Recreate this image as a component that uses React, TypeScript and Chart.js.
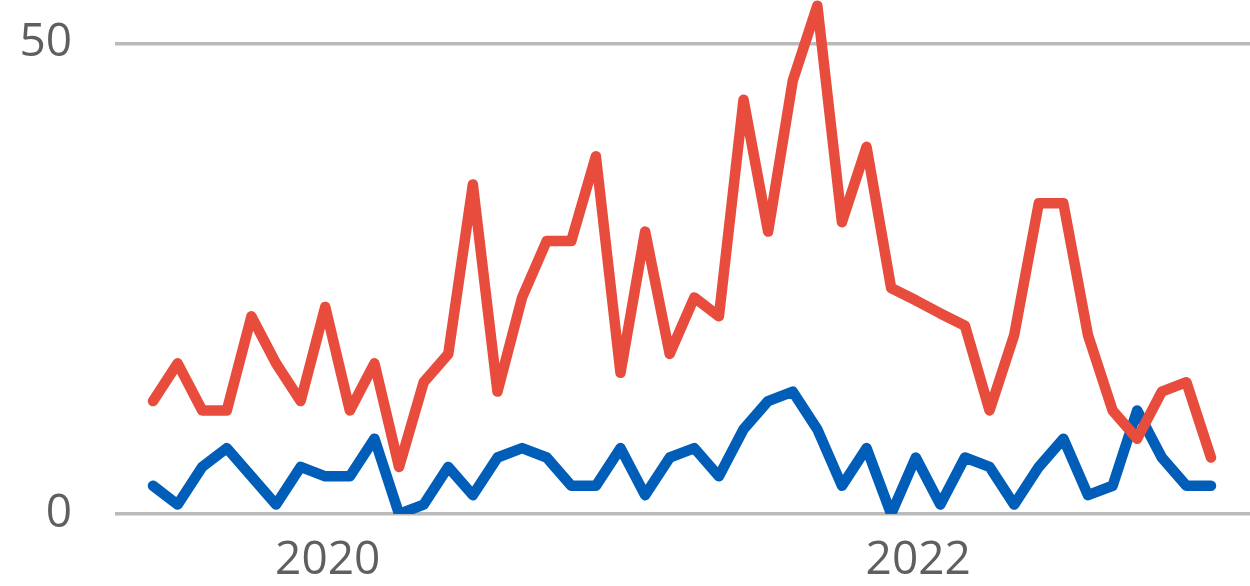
import React, { useEffect, useRef } from "react";
import { Chart, registerables } from "chart.js";

Chart.register(...registerables);

// Monthly data, June 2019 .. January 2023 (index 0 = Jun 2019)
const startYear = 2019;
const startMonth = 6; // June
const redSeries = [
  12, 16, 11, 11, 21, 16, 12, 22, 11, 16, 5, 14, 17, 35, 13, 23, 29, 29, 38, 15,
  30, 17, 23, 21, 44, 30, 46, 54, 31, 39, 24, 22.7, 21.3, 20, 11, 19, 33, 33, 19,
  11, 8, 13, 14, 6,
];
const blueSeries = [
  3, 1, 5, 7, 4, 1, 5, 4, 4, 8, 0, 1, 5, 2, 6, 7, 6, 3, 3, 7, 2, 6, 7, 4, 9, 12,
  13, 9, 3, 7, 0, 6, 1, 6, 5, 1, 5, 8, 2, 3, 11, 6, 3, 3,
];
const yTickValues = [0, 50];
const xTickYears = [2020, 2022];

const RED = "#e84c3d";
const BLUE = "#005eb8";
const GRID = "#bababa";
const TEXT = "#5f5f5f";
const FONT = "'Open Sans', 'Noto Sans', sans-serif";

function yearToIndex(year: number) {
  return (year - startYear) * 12 + (1 - startMonth);
}

function zeroPadding(scale: any) {
  scale.paddingTop = 0;
  scale.paddingBottom = 0;
  scale.paddingLeft = 0;
  scale.paddingRight = 0;
}

export default function App() {
  const canvasRef = useRef<HTMLCanvasElement | null>(null);

  useEffect(() => {
    document.body.style.margin = "0";
    const canvas = canvasRef.current;
    if (!canvas) return;
    const toPoints = (arr: number[]) => arr.map((v, i) => ({ x: i, y: v }));
    const chart = new Chart(canvas, {
      type: "line",
      data: {
        datasets: [
          {
            label: "red",
            data: toPoints(redSeries),
            borderColor: RED,
            borderWidth: 10.5,
            borderCapStyle: "round",
            borderJoinStyle: "round",
            pointRadius: 0,
            tension: 0,
            fill: false,
          },
          {
            label: "blue",
            data: toPoints(blueSeries),
            borderColor: BLUE,
            borderWidth: 10.5,
            borderCapStyle: "round",
            borderJoinStyle: "round",
            pointRadius: 0,
            tension: 0,
            fill: false,
          },
        ],
      },
      options: {
        animation: false,
        responsive: true,
        maintainAspectRatio: false,
        layout: { padding: 0 },
        plugins: {
          legend: { display: false },
          tooltip: { enabled: false },
        },
        scales: {
          x: {
            type: "linear",
            min: -1.545,
            max: 44.585,
            grid: { display: false, drawTicks: false },
            border: { display: false },
            afterBuildTicks: (scale: any) => {
              scale.ticks = xTickYears.map((y) => ({ value: yearToIndex(y) + 0.1 }));
            },
            afterFit: (scale: any) => {
              scale.height = 72;
              zeroPadding(scale);
            },
            ticks: {
              autoSkip: false,
              maxRotation: 0,
              padding: 19,
              color: TEXT,
              font: { family: FONT, size: 46 },
              callback: (value: any) => {
                const idx = Math.round(Number(value));
                return String(startYear + Math.floor((idx + startMonth - 1) / 12));
              },
            },
          },
          y: {
            min: 0,
            max: 54.6,
            grid: { color: GRID, lineWidth: 3.5, drawTicks: false },
            border: { display: false },
            afterBuildTicks: (scale: any) => {
              scale.ticks = yTickValues.map((v) => ({ value: v }));
            },
            afterFit: (scale: any) => {
              scale.width = 115;
              zeroPadding(scale);
            },
            ticks: {
              padding: 43,
              color: TEXT,
              font: { family: FONT, size: 46 },
            },
          },
        },
      },
    } as any);
    return () => chart.destroy();
  }, []);

  return (
    <div style={{ position: "absolute", left: 0, top: 0, width: 1250, height: 586 }}>
      <canvas ref={canvasRef} />
    </div>
  );
}
